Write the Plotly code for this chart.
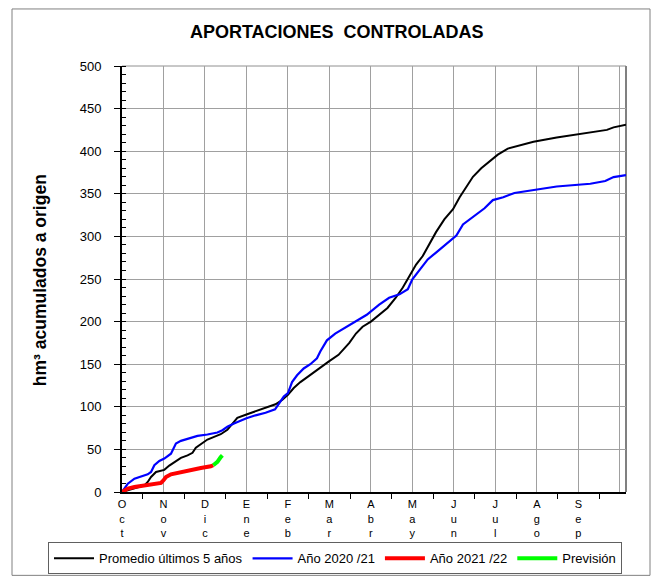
import plotly.graph_objects as go

# ---- data (x = months since 1 Oct, y = hm3 accumulated) ----
month_labels = ["Oct", "Nov", "Dic", "Ene", "Feb", "Mar", "Abr", "May", "Jun", "Jul", "Ago", "Sep"]
month_pos = list(range(13))

prom_x = [0, 0.3, 0.54, 0.62, 0.7, 0.82, 1.02, 1.14, 1.26, 1.42, 1.58, 1.7, 1.78, 1.9, 2.06, 2.22,
          2.38, 2.54, 2.66, 2.78, 3.0, 3.22, 3.46, 3.7, 3.86, 4.0, 4.14, 4.3, 4.5, 4.74, 4.98, 5.22,
          5.38, 5.48, 5.64, 5.8, 6.0, 6.2, 6.4, 6.6, 6.77, 6.93, 7.09, 7.25, 7.41, 7.57, 7.77, 7.98,
          8.14, 8.3, 8.46, 8.66, 8.86, 9.06, 9.3, 9.52, 9.92, 10.48, 11.13, 11.69, 11.85, 12.15]
prom_y = [0, 4, 7.8, 11.8, 17.6, 23.5, 26, 31, 35, 40, 43, 46, 52, 56, 61.6, 64.7,
          67.8, 73, 80, 87, 91, 95, 99, 103, 108, 114, 122, 129, 136, 145, 153, 161,
          169, 175, 186, 194, 200, 208, 216, 228, 240, 253.5, 267, 277, 291, 305, 320, 332,
          346, 358, 370, 380, 388, 396, 403, 406, 411, 416, 420.6, 425, 428, 431]

a2021_x = [0, 0.14, 0.3, 0.46, 0.62, 0.7, 0.78, 0.9, 1.02, 1.18, 1.26, 1.3, 1.42, 1.58, 1.82, 2.06,
           2.3, 2.42, 2.54, 2.7, 2.86, 3.0, 3.22, 3.46, 3.69, 3.78, 3.9, 4.0, 4.1, 4.22, 4.38, 4.54,
           4.7, 4.78, 4.94, 5.14, 5.38, 5.62, 5.9, 6.2, 6.44, 6.69, 6.89, 7.0, 7.17, 7.37, 7.57,
           7.81, 8.06, 8.22, 8.38, 8.5, 8.74, 8.94, 9.19, 9.46, 9.79, 10.48, 11.29, 11.65, 11.85, 12.15]
a2021_y = [0, 9.8, 15.7, 18.4, 20.8, 23.5, 31.4, 36.5, 39.2, 45, 52, 57, 60, 62.7, 65.9, 67.5,
           69.8, 72.5, 76.5, 80.4, 84, 86.5, 90, 93, 97, 104, 112, 116, 129, 137, 145, 150,
           157, 165, 178, 186, 193, 200, 208, 220, 228, 232, 238, 249.6, 261, 273, 281,
           291, 301, 314, 320, 325, 333, 342.6, 346, 351, 353.5, 358.6, 361.8, 365, 369.6, 372]

a2122_x = [0, 0.14, 0.3, 0.54, 0.78, 0.94, 1.0, 1.06, 1.18, 1.42, 1.66, 1.9, 2.14, 2.2]
a2122_y = [0, 4, 5.9, 7.8, 9, 10.6, 13.7, 17.6, 20.8, 23.5, 25.5, 28.2, 30.2, 31.4]

prev_x = [2.2, 2.3, 2.38, 2.42]
prev_y = [31.4, 35.3, 41, 43]

y_ticks = list(range(0, 501, 50))

FONT = "Liberation Sans, Arial, sans-serif"

fig = go.Figure()
fig.add_trace(go.Scatter(x=prom_x, y=prom_y, mode="lines", name="Promedio últimos 5 años",
                         line=dict(color="black", width=2)))
fig.add_trace(go.Scatter(x=a2021_x, y=a2021_y, mode="lines", name="Año 2020 /21",
                         line=dict(color="#0000FF", width=2.2)))
fig.add_trace(go.Scatter(x=a2122_x, y=a2122_y, mode="lines", name="Año 2021 /22",
                         line=dict(color="#FF0000", width=4)))
fig.add_trace(go.Scatter(x=prev_x, y=prev_y, mode="lines", name="Previsión",
                         line=dict(color="#00FF00", width=4)))

tick_text = ["<br>".join(list(m)) for m in month_labels] + [""]

PW = 504.0   # plot width px
PH = 425.7   # plot height px
L, T = 122, 66

fig.update_layout(
    width=659, height=578,
    margin=dict(l=L, r=659 - L - int(PW), t=T, b=578 - T - int(round(PH)), autoexpand=False),
    paper_bgcolor="white", plot_bgcolor="white",
    font=dict(family=FONT, color="black", size=13),
    title=dict(text="<b>APORTACIONES  CONTROLADAS</b>", x=0.511, xanchor="center",
               y=1 - 32 / 578, yanchor="middle", yref="container",
               font=dict(family=FONT, size=18, color="black")),
    xaxis=dict(range=[0, 12.15], tickmode="array", tickvals=month_pos, ticktext=tick_text,
               ticks="", showgrid=True, gridcolor="#A0A0A0", gridwidth=1,
               showline=True, linecolor="black", linewidth=2, zeroline=False,
               tickfont=dict(size=11), ticklabelstandoff=1,
               minor=dict(tickmode="array", tickvals=[m + 0.5 for m in range(12)],
                          ticks="outside", ticklen=5, tickcolor="black", showgrid=False)),
    yaxis=dict(range=[0, 500], tickmode="array", tickvals=y_ticks,
               ticks="outside", ticklen=6, tickcolor="black",
               showgrid=True, gridcolor="#A0A0A0", gridwidth=1,
               showline=True, linecolor="black", linewidth=2, zeroline=False,
               tickfont=dict(size=13), ticklabelstandoff=10,
               minor=dict(dtick=10, tick0=0, ticks="inside", ticklen=4, tickcolor="black", showgrid=False)),
    legend=dict(orientation="h", xref="paper", yref="paper",
                x=(48 - L) / PW, xanchor="left", y=(T + PH - 542) / PH, yanchor="top",
                bordercolor="#606060", borderwidth=1, bgcolor="white",
                itemwidth=40,
                font=dict(size=13, family=FONT), traceorder="normal"),
    showlegend=True,
    annotations=[dict(text="<b>hm³ acumulados a origen</b>", textangle=-90,
                      xref="paper", yref="paper", x=(40 - L) / PW, y=(T + PH - 280) / PH,
                      xanchor="center", yanchor="middle", showarrow=False,
                      font=dict(size=17.5, family=FONT, color="black"))],
    shapes=[
        dict(type="line", xref="paper", yref="paper", x0=0, x1=1, y0=1, y1=1,
             line=dict(color="#909090", width=1), layer="below"),
        dict(type="line", xref="paper", yref="paper", x0=1, x1=1, y0=0, y1=1,
             line=dict(color="#808080", width=2), layer="below"),
        dict(type="rect", xref="paper", yref="paper",
             x0=(12 - L) / PW, x1=(650 - L) / PW, y0=(T + PH - 575) / PH, y1=(T + PH - 9) / PH,
             line=dict(color="#808080", width=1), layer="below"),
    ],
)

fig.write_html("out.html", config={"displayModeBar": False},
               post_script="document.body.style.margin='0px';")
